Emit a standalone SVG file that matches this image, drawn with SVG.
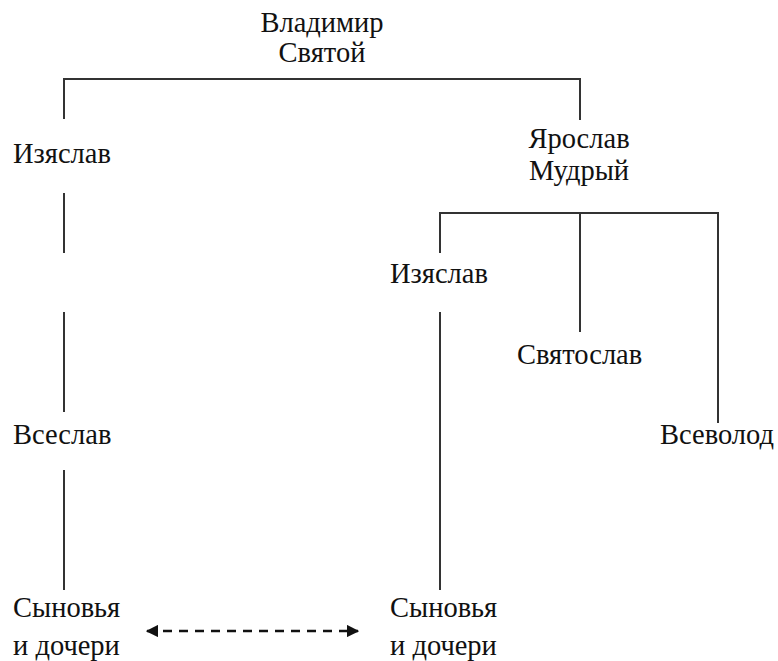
<svg xmlns="http://www.w3.org/2000/svg" width="778" height="661" viewBox="0 0 778 661">
<defs>
<style>
text{font-family:'Liberation Serif',serif !important;font-size:28.5px;fill:#111}
.ln{stroke:#333;stroke-width:2;fill:none}
.da{stroke:#111;stroke-width:2.5;fill:none;stroke-dasharray:9,7}
</style>
<marker id="ah" viewBox="0 0 10 10" refX="9" refY="5" markerWidth="5" markerHeight="5" orient="auto-start-reverse"><path d="M0,0L10,5L0,10z" fill="#111"/></marker>
</defs>
<rect width="778" height="661" fill="#fff"/>
<g id="connectors">
<path class="ln" d="M64,119V79H580V120"/>
<path class="ln" d="M440,253V213H718V423M580,213V332"/>
<path class="ln" d="M64,193V253M64,312V412M64,470V590"/>
<path class="ln" d="M440,312V590"/>
<path class="da" d="M147,631H358" marker-start="url(#ah)" marker-end="url(#ah)"/>
</g>
<g id="vladimir"><text x="322" y="32" text-anchor="middle" font-family="Liberation Serif" style="font-family:'Liberation Serif',serif !important">Владимир</text><text x="322" y="62" text-anchor="middle" font-family="Liberation Serif" style="font-family:'Liberation Serif',serif !important">Святой</text></g>
<g id="izyaslav1"><text x="13" y="163" font-family="Liberation Serif" style="font-family:'Liberation Serif',serif !important">Изяслав</text></g>
<g id="yaroslav"><text x="579" y="148" text-anchor="middle" font-family="Liberation Serif" style="font-family:'Liberation Serif',serif !important">Ярослав</text><text x="579" y="180" text-anchor="middle" font-family="Liberation Serif" style="font-family:'Liberation Serif',serif !important">Мудрый</text></g>
<g id="izyaslav2"><text x="390" y="283" font-family="Liberation Serif" style="font-family:'Liberation Serif',serif !important">Изяслав</text></g>
<g id="svyatoslav"><text x="517" y="364" font-family="Liberation Serif" style="font-family:'Liberation Serif',serif !important">Святослав</text></g>
<g id="vseslav"><text x="13" y="444" font-family="Liberation Serif" style="font-family:'Liberation Serif',serif !important">Всеслав</text></g>
<g id="vsevolod"><text x="660" y="444" font-family="Liberation Serif" style="font-family:'Liberation Serif',serif !important">Всеволод</text></g>
<g id="children1"><text x="13" y="617" font-family="Liberation Serif" style="font-family:'Liberation Serif',serif !important">Сыновья</text><text x="13" y="655" font-family="Liberation Serif" style="font-family:'Liberation Serif',serif !important">и дочери</text></g>
<g id="children2"><text x="390" y="617" font-family="Liberation Serif" style="font-family:'Liberation Serif',serif !important">Сыновья</text><text x="390" y="655" font-family="Liberation Serif" style="font-family:'Liberation Serif',serif !important">и дочери</text></g>
</svg>
